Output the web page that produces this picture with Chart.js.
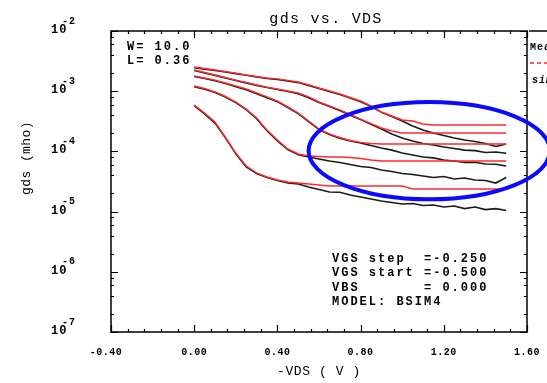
<!DOCTYPE html>
<html><head><meta charset="utf-8">
<script src="https://cdn.jsdelivr.net/npm/chart.js@4.4.0/dist/chart.umd.min.js"></script>
<style>html,body{margin:0;padding:0;background:#fff;overflow:hidden}canvas{display:block}</style>
</head><body>
<canvas id="c" width="547" height="383"></canvas>
<script>
// ---- data ----
const vds = [0,0.05,0.1,0.15,0.2,0.25,0.3,0.35,0.4,0.45,0.5,0.55,0.6,0.65,0.7,0.75,0.8,0.85,0.9,0.95,1.0,1.05,1.1,1.15,1.2,1.25,1.3,1.35,1.4,1.45,1.5];
const vgsLabels = ['-1.50','-1.25','-1.00','-0.75','-0.50'];

const simVgs150 = [2.52e-3,2.38e-3,2.25e-3,2.12e-3,2.00e-3,1.86e-3,1.75e-3,1.66e-3,1.60e-3,1.51e-3,1.42e-3,1.27e-3,1.13e-3,1.01e-3,8.97e-4,7.85e-4,6.87e-4,5.68e-4,4.51e-4,3.87e-4,3.32e-4,3.20e-4,2.85e-4,2.75e-4,2.75e-4,2.75e-4,2.75e-4,2.75e-4,2.75e-4,2.75e-4,2.75e-4];
const simVgs125 = [2.25e-3,2.05e-3,1.86e-3,1.69e-3,1.53e-3,1.40e-3,1.27e-3,1.17e-3,1.09e-3,1.01e-3,9.33e-4,8.02e-4,6.62e-4,5.68e-4,4.88e-4,4.10e-4,3.45e-4,2.90e-4,2.45e-4,2.18e-4,2.02e-4,2.02e-4,2.02e-4,2.02e-4,2.02e-4,2.02e-4,2.02e-4,2.02e-4,2.02e-4,2.02e-4,2.02e-4];
const simVgs100 = [1.79e-3,1.66e-3,1.53e-3,1.37e-3,1.22e-3,1.09e-3,9.33e-4,8.02e-4,6.87e-4,5.47e-4,4.35e-4,3.20e-4,2.36e-4,1.95e-4,1.70e-4,1.52e-4,1.41e-4,1.35e-4,1.33e-4,1.33e-4,1.33e-4,1.33e-4,1.33e-4,1.33e-4,1.33e-4,1.33e-4,1.33e-4,1.33e-4,1.33e-4,1.33e-4,1.33e-4];
const simVgs075 = [1.22e-3,1.11e-3,9.71e-4,8.17e-4,6.62e-4,5.06e-4,3.59e-4,2.26e-4,1.55e-4,1.10e-4,9.06e-5,8.39e-5,8.23e-5,8.07e-5,8.07e-5,7.92e-5,7.62e-5,7.20e-5,6.93e-5,6.93e-5,6.93e-5,6.93e-5,6.93e-5,6.93e-5,6.93e-5,6.93e-5,6.93e-5,6.93e-5,6.93e-5,6.93e-5,6.93e-5];
const simVgs050 = [5.90e-4,4.35e-4,3.08e-4,1.73e-4,9.40e-5,5.72e-5,4.38e-5,3.76e-5,3.35e-5,3.10e-5,2.98e-5,2.87e-5,2.77e-5,2.66e-5,2.66e-5,2.66e-5,2.66e-5,2.66e-5,2.66e-5,2.66e-5,2.66e-5,2.37e-5,2.37e-5,2.37e-5,2.37e-5,2.37e-5,2.37e-5,2.37e-5,2.37e-5,2.37e-5,2.37e-5];

const measVgs150 = [2.45e-3,2.33e-3,2.22e-3,2.08e-3,1.96e-3,1.84e-3,1.73e-3,1.63e-3,1.56e-3,1.48e-3,1.39e-3,1.25e-3,1.11e-3,9.9e-4,8.8e-4,7.7e-4,6.7e-4,5.6e-4,4.45e-4,3.80e-4,3.20e-4,2.64e-4,2.26e-4,2.02e-4,1.84e-4,1.67e-4,1.55e-4,1.46e-4,1.35e-4,1.21e-4,1.33e-4];
const measVgs125 = [2.20e-3,2.01e-3,1.83e-3,1.66e-3,1.51e-3,1.37e-3,1.25e-3,1.15e-3,1.07e-3,9.9e-4,9.1e-4,7.8e-4,6.5e-4,5.55e-4,4.78e-4,4.0e-4,3.38e-4,2.82e-4,2.36e-4,1.95e-4,1.67e-4,1.49e-4,1.35e-4,1.28e-4,1.18e-4,1.12e-4,1.05e-4,1.03e-4,9.6e-5,9.8e-5,9.3e-5];
const measVgs100 = [1.75e-3,1.62e-3,1.49e-3,1.34e-3,1.19e-3,1.06e-3,9.1e-4,7.8e-4,6.7e-4,5.35e-4,4.25e-4,3.12e-4,2.30e-4,1.90e-4,1.66e-4,1.49e-4,1.38e-4,1.25e-4,1.14e-4,1.05e-4,9.4e-5,8.71e-5,8.07e-5,7.8e-5,7.2e-5,6.93e-5,6.54e-5,6.6e-5,6.18e-5,6.1e-5,5.72e-5];
const measVgs075 = [1.19e-3,1.08e-3,9.5e-4,8.0e-4,6.45e-4,4.95e-4,3.50e-4,2.20e-4,1.50e-4,1.07e-4,8.8e-5,8.07e-5,7.48e-5,6.93e-5,6.54e-5,6.06e-5,5.61e-5,5.40e-5,4.91e-5,4.63e-5,4.30e-5,4.13e-5,3.90e-5,3.69e-5,3.83e-5,3.48e-5,3.62e-5,3.35e-5,3.29e-5,2.98e-5,3.69e-5];
const measVgs050 = [5.75e-4,4.2e-4,2.95e-4,1.68e-4,9.1e-5,5.55e-5,4.3e-5,3.7e-5,3.3e-5,2.98e-5,2.87e-5,2.56e-5,2.33e-5,2.12e-5,2.10e-5,1.89e-5,1.75e-5,1.62e-5,1.50e-5,1.42e-5,1.34e-5,1.36e-5,1.26e-5,1.29e-5,1.19e-5,1.24e-5,1.12e-5,1.19e-5,1.08e-5,1.12e-5,1.04e-5];

const xTickValues = [-0.4,0,0.4,0.8,1.2,1.6];
const xTickLabels = ['-0.40','0.00','0.40','0.80','1.20','1.60'];
const yTickValues = [1e-2,1e-3,1e-4,1e-5,1e-6,1e-7];
const yTickExponents = ['-2','-3','-4','-5','-6','-7'];

const titleText = 'gds vs. VDS';
const xTitle = '-VDS ( V )';
const yTitle = 'gds (mho)';
const deviceText = ['W= 10.0','L= 0.36'];
const biasText = ['VGS step  =-0.250','VGS start =-0.500','VBS       = 0.000','MODEL: BSIM4'];
const legendText = ['Measured','simulated'];
// highlighted region (data coords) of the blue ellipse
const ellipseX = [0.55, 1.71];
const ellipseY = [1.6e-5, 6.6e-4];

// ---- datasets ----
const pts = arr => vds.map((v,i)=>({x:v, y:arr[i]}));
const sims = [simVgs150, simVgs125, simVgs100, simVgs075, simVgs050];
const meas = [measVgs150, measVgs125, measVgs100, measVgs075, measVgs050];
const datasets = [];
sims.forEach((s,i)=>datasets.push({label:'sim VGS='+vgsLabels[i], data:pts(s), borderColor:'#ff2a2a', borderWidth:1.4, pointRadius:0, tension:0, fill:false}));
meas.forEach((m,i)=>datasets.push({label:'meas VGS='+vgsLabels[i], data:pts(m), borderColor:'#1a1a1a', borderWidth:1.6, pointRadius:0, tension:0, fill:false}));

const MONO = '"Liberation Mono", "DejaVu Sans Mono", monospace';

const decor = {
  id:'decor',
  afterDraw(chart){
    const {ctx, chartArea:a, scales:{x,y}} = chart;
    ctx.save();
    ctx.strokeStyle='#000'; ctx.fillStyle='#000';
    // frame
    ctx.lineWidth=1.5;
    ctx.strokeRect(a.left, a.top, a.right-a.left, a.bottom-a.top);
    ctx.lineWidth=1.2;
    ctx.beginPath();
    // x ticks (major every 0.4, minor every 0.08), inside on bottom and top
    for(let i=0;i<=25;i++){
      const v = -0.4 + i*0.08;
      const px = Math.round(x.getPixelForValue(v))+0.5;
      const len = (i%5===0)?7:3;
      ctx.moveTo(px, a.bottom); ctx.lineTo(px, a.bottom-len);
      ctx.moveTo(px, a.top); ctx.lineTo(px, a.top+len);
    }
    // y ticks (major decades, minor 2,4,6,8)
    for(let d=-7; d<=-2; d++){
      const mults = d<-2 ? [1,2,4,6,8] : [1];
      mults.forEach(m=>{
        const v = m*Math.pow(10,d);
        const py = Math.round(y.getPixelForValue(v))+0.5;
        const len = m===1?7:3;
        ctx.moveTo(a.left, py); ctx.lineTo(a.left+len, py);
        ctx.moveTo(a.right, py); ctx.lineTo(a.right-len, py);
      });
    }
    ctx.stroke();

    // x tick labels
    ctx.font = 'bold 10px '+MONO;
    ctx.letterSpacing='0.5px';
    ctx.textAlign='center'; ctx.textBaseline='middle';
    xTickValues.forEach((v,i)=>{
      const off = i===0 ? -5 : 0;
      ctx.fillText(xTickLabels[i], x.getPixelForValue(v)+off, a.bottom+20);
    });
    // y tick labels: 10 with superscript exponent
    yTickValues.forEach((v,i)=>{
      const py = y.getPixelForValue(v);
      ctx.textAlign='left';
      ctx.font='bold 12px '+MONO; ctx.letterSpacing='1px';
      ctx.fillText('10', a.left-60, py-1);
      ctx.font='bold 10px '+MONO; ctx.letterSpacing='1px';
      ctx.fillText(yTickExponents[i], a.left-49, py-10);
    });

    // title
    ctx.font='15px '+MONO; ctx.letterSpacing='1.3px'; ctx.textAlign='center';
    ctx.fillText(titleText, 326, 19);
    // x title
    ctx.font='13px '+MONO; ctx.letterSpacing='0.6px';
    ctx.fillText(xTitle, (a.left+a.right)/2, a.bottom+40);
    // y title
    ctx.save();
    ctx.translate(27, 158); ctx.rotate(-Math.PI/2);
    ctx.font='13px '+MONO; ctx.letterSpacing='0.4px';
    ctx.fillText(yTitle, 0, 0);
    ctx.restore();

    // device text
    ctx.font='bold 12px '+MONO; ctx.letterSpacing='2px'; ctx.textAlign='left';
    deviceText.forEach((t,i)=>ctx.fillText(t, a.left+16, a.top+16+i*14));
    biasText.forEach((t,i)=>ctx.fillText(t, 332, 259+i*14.3));

    // legend (cut off at right edge)
    ctx.lineWidth=1.5;
    ctx.beginPath(); ctx.moveTo(a.right+2, a.top); ctx.lineTo(560, a.top); ctx.stroke();
    ctx.font='bold 10px '+MONO; ctx.letterSpacing='1px';
    ctx.fillText(legendText[0], a.right+3, a.top+16);
    ctx.strokeStyle='#ff2a2a'; ctx.lineWidth=1.3; ctx.setLineDash([4,3]);
    ctx.beginPath(); ctx.moveTo(a.right+3, a.top+32); ctx.lineTo(560, a.top+32); ctx.stroke();
    ctx.setLineDash([]);
    ctx.font='italic bold 10px '+MONO;
    ctx.fillText(legendText[1], a.right+5, a.top+49);

    // blue ellipse highlight
    const ex0=x.getPixelForValue(ellipseX[0]), ex1=x.getPixelForValue(ellipseX[1]);
    const ey0=y.getPixelForValue(ellipseY[1]), ey1=y.getPixelForValue(ellipseY[0]);
    ctx.strokeStyle='#0a0aff'; ctx.lineWidth=4;
    ctx.beginPath();
    ctx.ellipse((ex0+ex1)/2,(ey0+ey1)/2,(ex1-ex0)/2,(ey1-ey0)/2,0,0,Math.PI*2);
    ctx.stroke();
    ctx.restore();
  }
};

new Chart(document.getElementById('c'), {
  type:'line',
  data:{datasets},
  options:{
    responsive:false, animation:false, devicePixelRatio:1,
    layout:{padding:{left:111, top:31, right:20, bottom:51}},
    plugins:{legend:{display:false}, title:{display:false}, tooltip:{enabled:false}},
    scales:{
      x:{type:'linear', min:-0.4, max:1.6, display:false},
      y:{type:'logarithmic', min:1e-7, max:1e-2, display:false}
    }
  },
  plugins:[decor]
});
</script>
</body></html>
